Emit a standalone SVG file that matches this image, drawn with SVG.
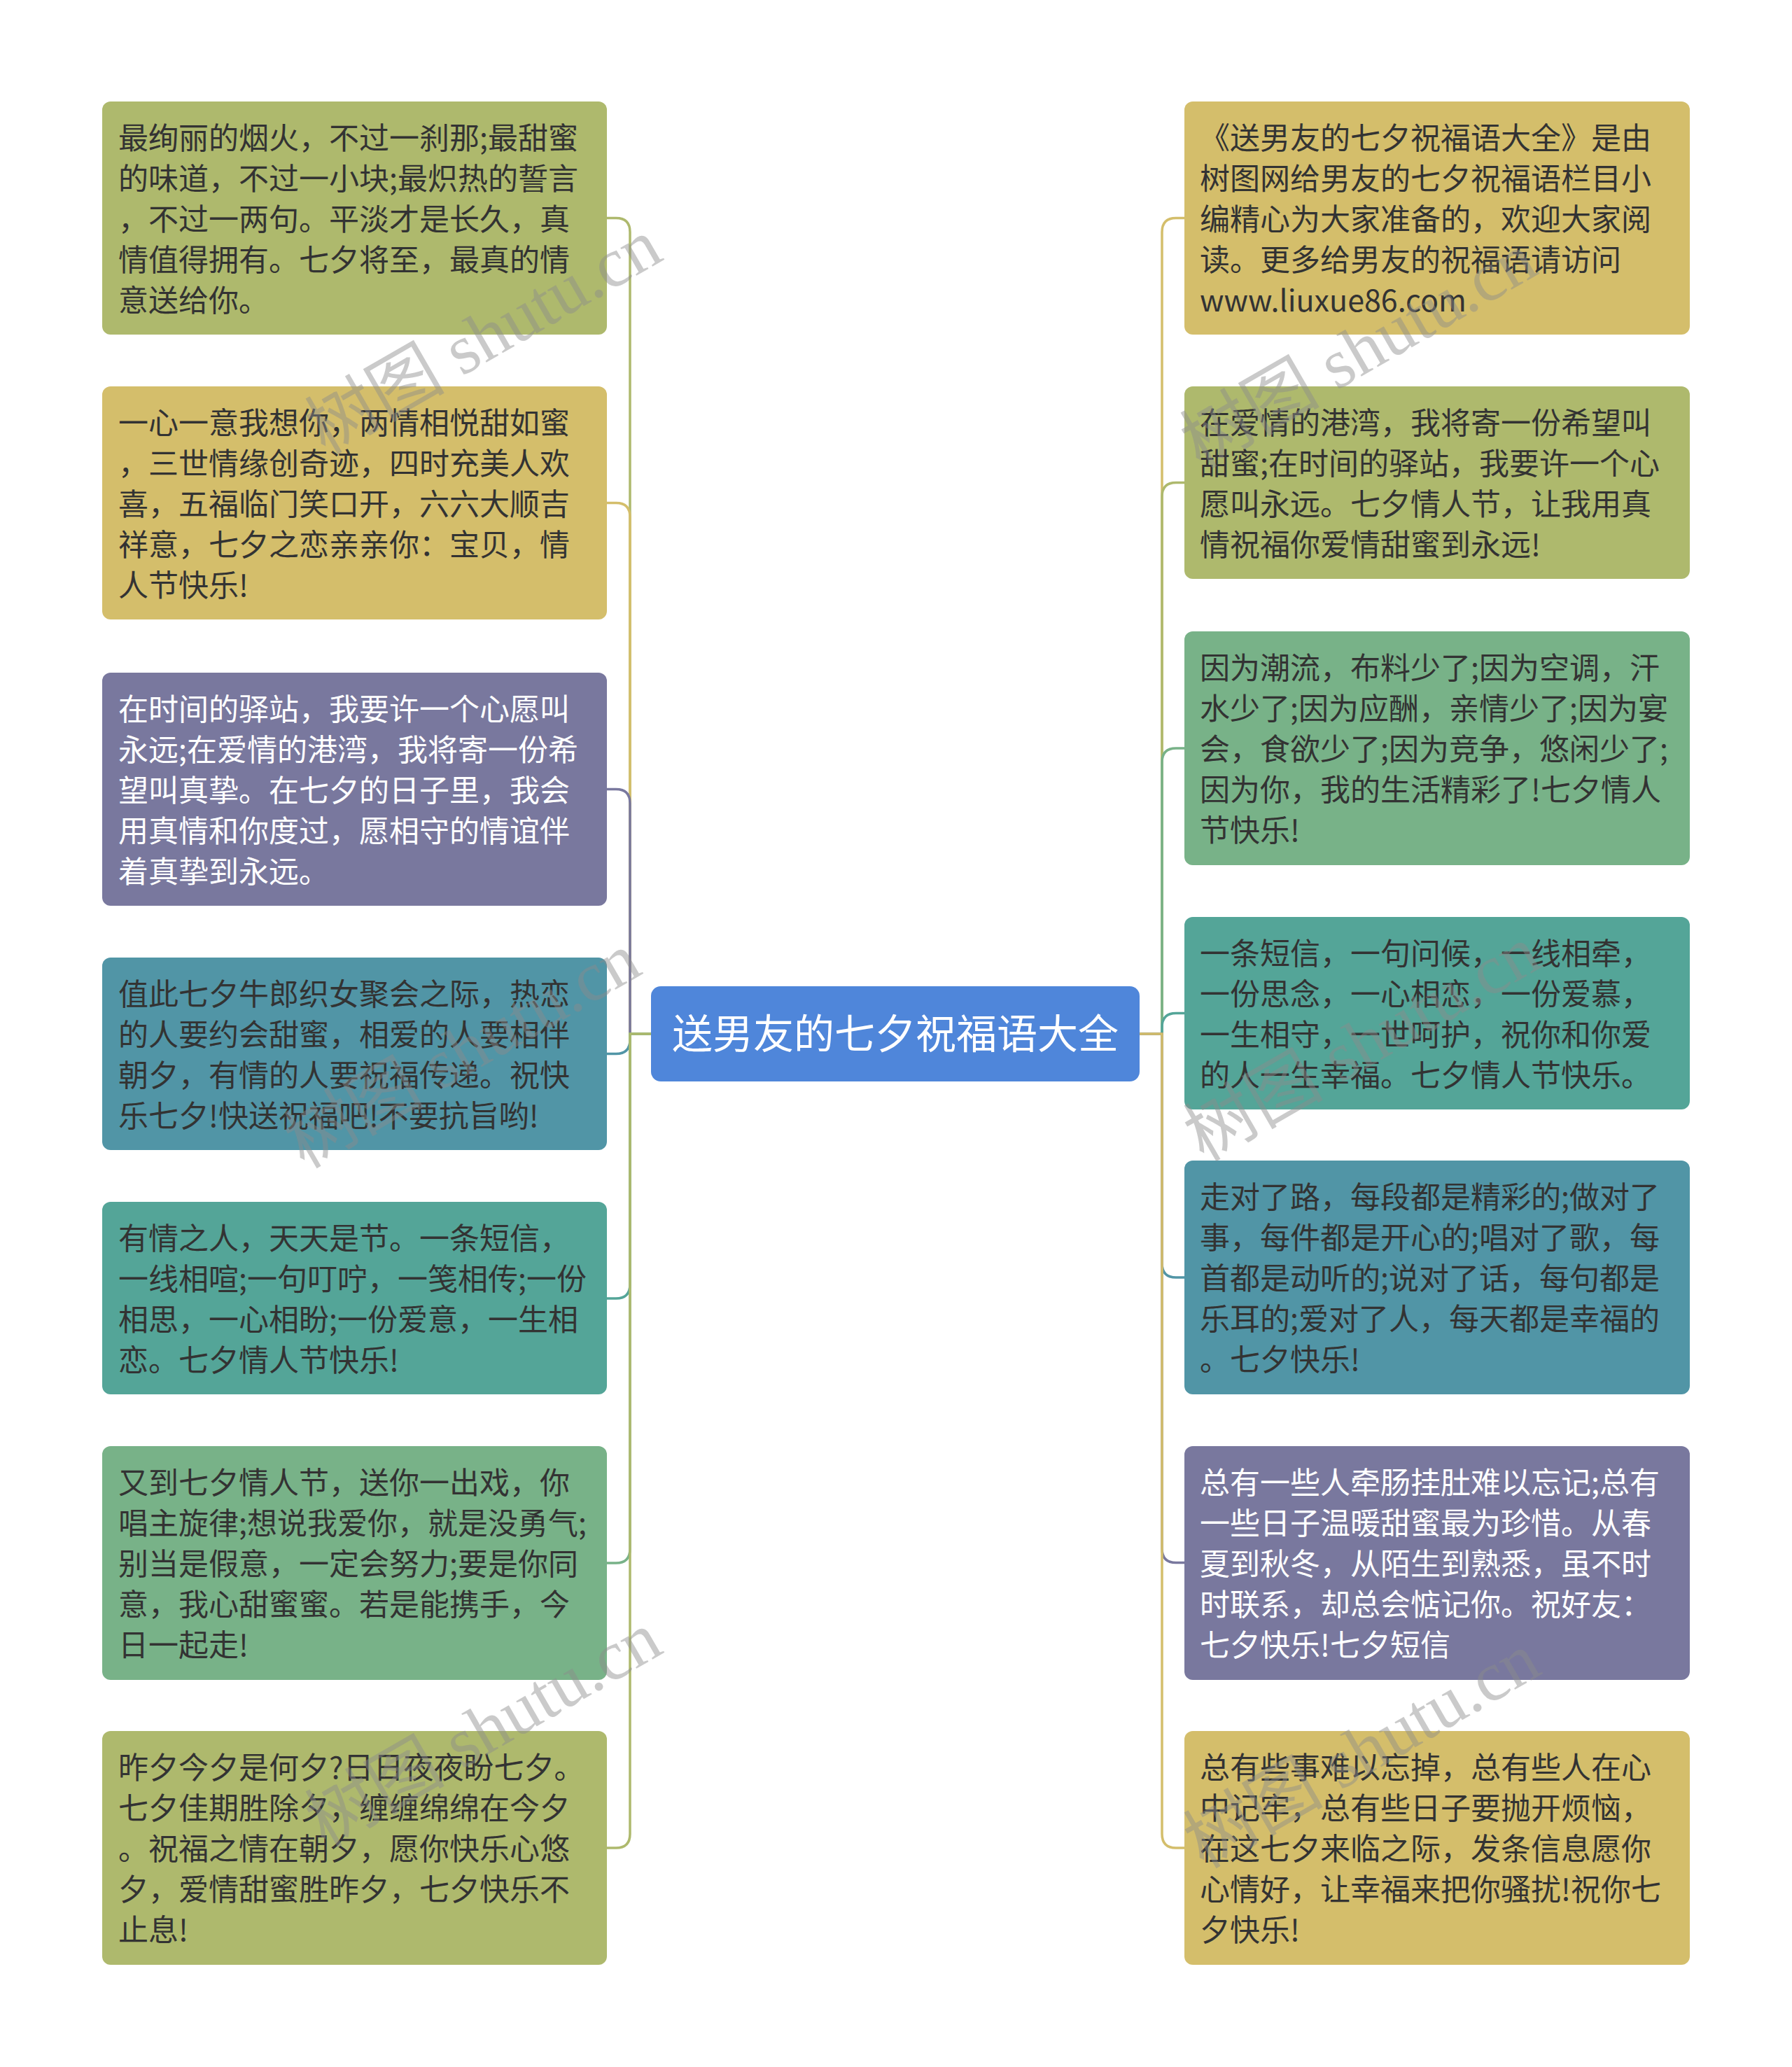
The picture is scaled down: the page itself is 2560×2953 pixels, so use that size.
<svg xmlns="http://www.w3.org/2000/svg" width="2560" height="2953" viewBox="0 0 2560 2953">
<style>
.t{font-family:"Noto Sans CJK SC","Noto Sans",sans-serif;font-size:43px;fill:#333333}
.w{fill:#ffffff}
.ct{font-family:"Noto Sans CJK SC","Noto Sans",sans-serif;font-size:58px;fill:#ffffff}
.c{fill:none;stroke-width:3.5}
.wm{font-family:"Liberation Serif","Noto Sans CJK SC",serif;font-size:100px;fill:#8c8c8c;opacity:0.45}
.olive{fill:#aeb96d}
.gold{fill:#d4be6b}
.purple{fill:#79789e}
.tblue{fill:#5195a6}
.teal{fill:#54a598}
.green{fill:#78b288}
</style>
<rect width="2560" height="2953" fill="#ffffff"/>
<g id="connectors">
<path class="c" stroke="#aeb96d" d="M930,1477 H900 V331.5 Q900,311.5 880,311.5 H867"/>
<path class="c" stroke="#d4be6b" d="M930,1477 H900 V738.5 Q900,718.5 880,718.5 H867"/>
<path class="c" stroke="#79789e" d="M930,1477 H900 V1147.5 Q900,1127.5 880,1127.5 H867"/>
<path class="c" stroke="#5195a6" d="M930,1477 H900 V1485.5 Q900,1505.5 880,1505.5 H867"/>
<path class="c" stroke="#54a598" d="M930,1477 H900 V1835 Q900,1855 880,1855 H867"/>
<path class="c" stroke="#78b288" d="M930,1477 H900 V2213 Q900,2233 880,2233 H867"/>
<path class="c" stroke="#aeb96d" d="M930,1477 H900 V2620 Q900,2640 880,2640 H867"/>
<path class="c" stroke="#d4be6b" d="M1628,1477 H1660 V331.5 Q1660,311.5 1680,311.5 H1692"/>
<path class="c" stroke="#aeb96d" d="M1628,1477 H1660 V709.5 Q1660,689.5 1680,689.5 H1692"/>
<path class="c" stroke="#78b288" d="M1628,1477 H1660 V1089 Q1660,1069 1680,1069 H1692"/>
<path class="c" stroke="#54a598" d="M1628,1477 H1660 V1467.5 Q1660,1447.5 1680,1447.5 H1692"/>
<path class="c" stroke="#5195a6" d="M1628,1477 H1660 V1805 Q1660,1825 1680,1825 H1692"/>
<path class="c" stroke="#79789e" d="M1628,1477 H1660 V2212.5 Q1660,2232.5 1680,2232.5 H1692"/>
<path class="c" stroke="#d4be6b" d="M1628,1477 H1660 V2620 Q1660,2640 1680,2640 H1692"/>
</g>
<g id="center">
<rect x="930" y="1409" width="698" height="136" rx="14" fill="#4f86da"/>
<text class="ct" x="1279" y="1498" text-anchor="middle">送男友的七夕祝福语大全</text>
</g>
<g id="L1">
<rect class="olive" x="146" y="145" width="721" height="333" rx="12"/>
<text class="t"><tspan x="169" y="213">最绚丽的烟火，不过一刹那;最甜蜜</tspan><tspan x="169" y="271">的味道，不过一小块;最炽热的誓言</tspan><tspan x="169" y="329">，不过一两句。平淡才是长久，真</tspan><tspan x="169" y="387">情值得拥有。七夕将至，最真的情</tspan><tspan x="169" y="445">意送给你。</tspan></text>
</g>
<g id="L2">
<rect class="gold" x="146" y="552" width="721" height="333" rx="12"/>
<text class="t"><tspan x="169" y="620">一心一意我想你，两情相悦甜如蜜</tspan><tspan x="169" y="678">，三世情缘创奇迹，四时充美人欢</tspan><tspan x="169" y="736">喜，五福临门笑口开，六六大顺吉</tspan><tspan x="169" y="794">祥意，七夕之恋亲亲你：宝贝，情</tspan><tspan x="169" y="852">人节快乐!</tspan></text>
</g>
<g id="L3">
<rect class="purple" x="146" y="961" width="721" height="333" rx="12"/>
<text class="t w"><tspan x="169" y="1029">在时间的驿站，我要许一个心愿叫</tspan><tspan x="169" y="1087">永远;在爱情的港湾，我将寄一份希</tspan><tspan x="169" y="1145">望叫真挚。在七夕的日子里，我会</tspan><tspan x="169" y="1203">用真情和你度过，愿相守的情谊伴</tspan><tspan x="169" y="1261">着真挚到永远。</tspan></text>
</g>
<g id="L4">
<rect class="tblue" x="146" y="1368" width="721" height="275" rx="12"/>
<text class="t"><tspan x="169" y="1436">值此七夕牛郎织女聚会之际，热恋</tspan><tspan x="169" y="1494">的人要约会甜蜜，相爱的人要相伴</tspan><tspan x="169" y="1552">朝夕，有情的人要祝福传递。祝快</tspan><tspan x="169" y="1610">乐七夕!快送祝福吧!不要抗旨哟!</tspan></text>
</g>
<g id="L5">
<rect class="teal" x="146" y="1717" width="721" height="275" rx="12"/>
<text class="t"><tspan x="169" y="1785">有情之人，天天是节。一条短信，</tspan><tspan x="169" y="1843">一线相喧;一句叮咛，一笺相传;一份</tspan><tspan x="169" y="1901">相思，一心相盼;一份爱意，一生相</tspan><tspan x="169" y="1959">恋。七夕情人节快乐!</tspan></text>
</g>
<g id="L6">
<rect class="green" x="146" y="2066" width="721" height="334" rx="12"/>
<text class="t"><tspan x="169" y="2134">又到七夕情人节，送你一出戏，你</tspan><tspan x="169" y="2192">唱主旋律;想说我爱你，就是没勇气;</tspan><tspan x="169" y="2250">别当是假意，一定会努力;要是你同</tspan><tspan x="169" y="2308">意，我心甜蜜蜜。若是能携手，今</tspan><tspan x="169" y="2366">日一起走!</tspan></text>
</g>
<g id="L7">
<rect class="olive" x="146" y="2473" width="721" height="334" rx="12"/>
<text class="t"><tspan x="169" y="2541">昨夕今夕是何夕?日日夜夜盼七夕。</tspan><tspan x="169" y="2599">七夕佳期胜除夕，缠缠绵绵在今夕</tspan><tspan x="169" y="2657">。祝福之情在朝夕，愿你快乐心悠</tspan><tspan x="169" y="2715">夕，爱情甜蜜胜昨夕，七夕快乐不</tspan><tspan x="169" y="2773">止息!</tspan></text>
</g>
<g id="R1">
<rect class="gold" x="1692" y="145" width="722" height="333" rx="12"/>
<text class="t"><tspan x="1714" y="213">《送男友的七夕祝福语大全》是由</tspan><tspan x="1714" y="271">树图网给男友的七夕祝福语栏目小</tspan><tspan x="1714" y="329">编精心为大家准备的，欢迎大家阅</tspan><tspan x="1714" y="387">读。更多给男友的祝福语请访问</tspan><tspan x="1714" y="445">www.liuxue86.com</tspan></text>
</g>
<g id="R2">
<rect class="olive" x="1692" y="552" width="722" height="275" rx="12"/>
<text class="t"><tspan x="1714" y="620">在爱情的港湾，我将寄一份希望叫</tspan><tspan x="1714" y="678">甜蜜;在时间的驿站，我要许一个心</tspan><tspan x="1714" y="736">愿叫永远。七夕情人节，让我用真</tspan><tspan x="1714" y="794">情祝福你爱情甜蜜到永远!</tspan></text>
</g>
<g id="R3">
<rect class="green" x="1692" y="902" width="722" height="334" rx="12"/>
<text class="t"><tspan x="1714" y="970">因为潮流，布料少了;因为空调，汗</tspan><tspan x="1714" y="1028">水少了;因为应酬，亲情少了;因为宴</tspan><tspan x="1714" y="1086">会，食欲少了;因为竞争，悠闲少了;</tspan><tspan x="1714" y="1144">因为你，我的生活精彩了!七夕情人</tspan><tspan x="1714" y="1202">节快乐!</tspan></text>
</g>
<g id="R4">
<rect class="teal" x="1692" y="1310" width="722" height="275" rx="12"/>
<text class="t"><tspan x="1714" y="1378">一条短信，一句问候，一线相牵，</tspan><tspan x="1714" y="1436">一份思念，一心相恋，一份爱慕，</tspan><tspan x="1714" y="1494">一生相守，一世呵护，祝你和你爱</tspan><tspan x="1714" y="1552">的人一生幸福。七夕情人节快乐。</tspan></text>
</g>
<g id="R5">
<rect class="tblue" x="1692" y="1658" width="722" height="334" rx="12"/>
<text class="t"><tspan x="1714" y="1726">走对了路，每段都是精彩的;做对了</tspan><tspan x="1714" y="1784">事，每件都是开心的;唱对了歌，每</tspan><tspan x="1714" y="1842">首都是动听的;说对了话，每句都是</tspan><tspan x="1714" y="1900">乐耳的;爱对了人，每天都是幸福的</tspan><tspan x="1714" y="1958">。七夕快乐!</tspan></text>
</g>
<g id="R6">
<rect class="purple" x="1692" y="2066" width="722" height="334" rx="12"/>
<text class="t w"><tspan x="1714" y="2134">总有一些人牵肠挂肚难以忘记;总有</tspan><tspan x="1714" y="2192">一些日子温暖甜蜜最为珍惜。从春</tspan><tspan x="1714" y="2250">夏到秋冬，从陌生到熟悉，虽不时</tspan><tspan x="1714" y="2308">时联系，却总会惦记你。祝好友：</tspan><tspan x="1714" y="2366">七夕快乐!七夕短信</tspan></text>
</g>
<g id="R7">
<rect class="gold" x="1692" y="2473" width="722" height="334" rx="12"/>
<text class="t"><tspan x="1714" y="2541">总有些事难以忘掉，总有些人在心</tspan><tspan x="1714" y="2599">中记牢，总有些日子要抛开烦恼，</tspan><tspan x="1714" y="2657">在这七夕来临之际，发条信息愿你</tspan><tspan x="1714" y="2715">心情好，让幸福来把你骚扰!祝你七</tspan><tspan x="1714" y="2773">夕快乐!</tspan></text>
</g>
<g id="watermarks">
<text class="wm" x="690" y="515" text-anchor="middle" transform="rotate(-30 690 480)">树图 shutu.cn</text>
<text class="wm" x="1940" y="535" text-anchor="middle" transform="rotate(-30 1940 500)">树图 shutu.cn</text>
<text class="wm" x="660" y="1535" text-anchor="middle" transform="rotate(-30 660 1500)">树图 shutu.cn</text>
<text class="wm" x="1945" y="1525" text-anchor="middle" transform="rotate(-30 1945 1490)">树图 shutu.cn</text>
<text class="wm" x="690" y="2505" text-anchor="middle" transform="rotate(-30 690 2470)">树图 shutu.cn</text>
<text class="wm" x="1945" y="2535" text-anchor="middle" transform="rotate(-30 1945 2500)">树图 shutu.cn</text>
</g>
</svg>
